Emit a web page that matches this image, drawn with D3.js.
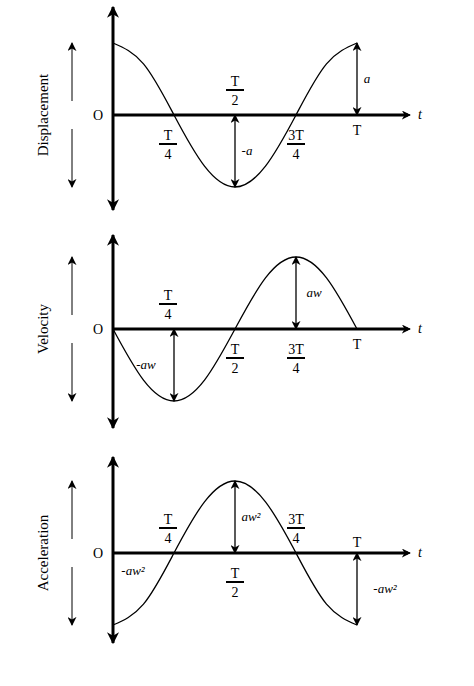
<!DOCTYPE html>
<html><head><meta charset="utf-8">
<script src="https://cdn.jsdelivr.net/npm/d3@7"></script>
<style>body{margin:0;background:#fff}</style></head>
<body><svg id="c" width="474" height="686"></svg>
<script>
// data
const phases = [0, 0.125, 0.25, 0.375, 0.5, 0.625, 0.75, 0.875, 1];
const displacement = [1, 0.71, 0, -0.71, -1, -0.71, 0, 0.71, 1];
const velocity = [0, -0.71, -1, -0.71, 0, 0.71, 1, 0.71, 0];
const acceleration = [-1, -0.71, 0, 0.71, 1, 0.71, 0, -0.71, -1];
const panelNames = ["Displacement", "Velocity", "Acceleration"];
// tick labels: [phase, numerator, denominator, side(-1 above,1 below)]
const ticks1 = [[0.25,"T","4",1],[0.5,"T","2",-1],[0.75,"3T","4",1],[1,"T",null,1]];
const ticks2 = [[0.25,"T","4",-1],[0.5,"T","2",1],[0.75,"3T","4",1],[1,"T",null,1]];
const ticks3 = [[0.25,"T","4",-1],[0.5,"T","2",1],[0.75,"3T","4",-1],[1,"T",null,-1]];
// amplitude markers: [phase, value, label, labelDx]
const marks1 = [[0.5,-1,"-a",12],[1,1,"a",10]];
const marks2 = [[0.25,-1,"-aw",-28],[0.75,1,"aw",18]];
const marks3 = [[0.5,1,"aw²",16],[1,-1,"-aw²",28]];
const startLabels = [null, null, "-aw²"];

const svg = d3.select("#c");
const defs = svg.append("defs");
function marker(id, w, h){
  defs.append("marker").attr("id",id).attr("viewBox","0 0 10 10").attr("refX",9).attr("refY",5)
   .attr("markerWidth",w).attr("markerHeight",h).attr("orient","auto-start-reverse").attr("markerUnits","userSpaceOnUse")
   .append("path").attr("d","M0,0L10,5L0,10L3,5Z").attr("fill","#000");
}
marker("ah",9,9); marker("big",12,12);
const x = d3.scaleLinear().domain([0,1]).range([113,357]);
const font = "Liberation Serif, DejaVu Serif, serif";
const panels = [
 {c:115, top:5, bot:212, data:displacement, ticks:ticks1, marks:marks1},
 {c:329, top:233, bot:430, data:velocity, ticks:ticks2, marks:marks2},
 {c:553, top:455, bot:645, data:acceleration, ticks:ticks3, marks:marks3}
];
panels.forEach((p,i)=>{
  const y = d3.scaleLinear().domain([-1,1]).range([p.c+72, p.c-72]);
  const g = svg.append("g");
  g.append("line").attr("x1",113).attr("x2",113).attr("y1",p.top+2).attr("y2",p.bot-2)
   .attr("stroke","#000").attr("stroke-width",3).attr("marker-start","url(#big)").attr("marker-end","url(#big)");
  g.append("line").attr("x1",113).attr("x2",408).attr("y1",p.c).attr("y2",p.c).attr("stroke","#000").attr("stroke-width",3);
  g.append("line").attr("x1",382).attr("x2",410).attr("y1",p.c).attr("y2",p.c).attr("stroke","#000").attr("stroke-width",1.5).attr("marker-end","url(#ah)");
  g.append("text").attr("x",418).attr("y",p.c+4).attr("font-family",font).attr("font-style","italic").attr("font-size",14).text("t");
  g.append("text").attr("x",93).attr("y",p.c+5).attr("font-family",font).attr("font-size",14).text("O");
  g.append("path").datum(phases.map((ph,k)=>[ph,p.data[k]]))
   .attr("d",d3.line().x(d=>x(d[0])).y(d=>y(d[1])).curve(d3.curveNatural))
   .attr("fill","none").attr("stroke","#000").attr("stroke-width",1.3);
  // side label and arrows
  g.append("text").attr("transform",`translate(48,${p.c}) rotate(-90)`).attr("text-anchor","middle")
   .attr("font-family",font).attr("font-size",15).text(panelNames[i]);
  g.append("line").attr("x1",72).attr("x2",72).attr("y1",p.c-14).attr("y2",p.c-72).attr("stroke","#000").attr("marker-end","url(#ah)");
  g.append("line").attr("x1",72).attr("x2",72).attr("y1",p.c+14).attr("y2",p.c+72).attr("stroke","#000").attr("marker-end","url(#ah)");
  // ticks
  p.ticks.forEach(t=>{
    const tx = x(t[0]) + (t[0]===0.25? -6 : t[0]===0.75 ? 0 : 0);
    if(t[2]===null){
      g.append("text").attr("x",x(t[0])).attr("y",t[3]>0?p.c+20:p.c-6).attr("text-anchor","middle").attr("font-family",font).attr("font-size",14).text(t[1]);
      return;
    }
    const top = t[3]>0 ? p.c+14 : p.c-40;
    g.append("text").attr("x",tx).attr("y",top+11).attr("text-anchor","middle").attr("font-family",font).attr("font-size",14).text(t[1]);
    g.append("line").attr("x1",tx-9).attr("x2",tx+9).attr("y1",top+15).attr("y2",top+15).attr("stroke","#000").attr("stroke-width",2);
    g.append("text").attr("x",tx).attr("y",top+30).attr("text-anchor","middle").attr("font-family",font).attr("font-size",14).text(t[2]);
  });
  p.marks.forEach(m=>{
    g.append("line").attr("x1",x(m[0])).attr("x2",x(m[0])).attr("y1",y(0)).attr("y2",y(m[1]))
     .attr("stroke","#000").attr("stroke-width",1.3).attr("marker-start","url(#ah)").attr("marker-end","url(#ah)");
    g.append("text").attr("x",x(m[0])+m[3]).attr("y",(y(0)+y(m[1]))/2+4).attr("text-anchor","middle")
     .attr("font-family",font).attr("font-style","italic").attr("font-size",13).text(m[2]);
  });
  if(startLabels[i]) g.append("text").attr("x",133).attr("y",p.c+22).attr("text-anchor","middle")
     .attr("font-family",font).attr("font-style","italic").attr("font-size",13).text(startLabels[i]);
});
</script></body></html>
